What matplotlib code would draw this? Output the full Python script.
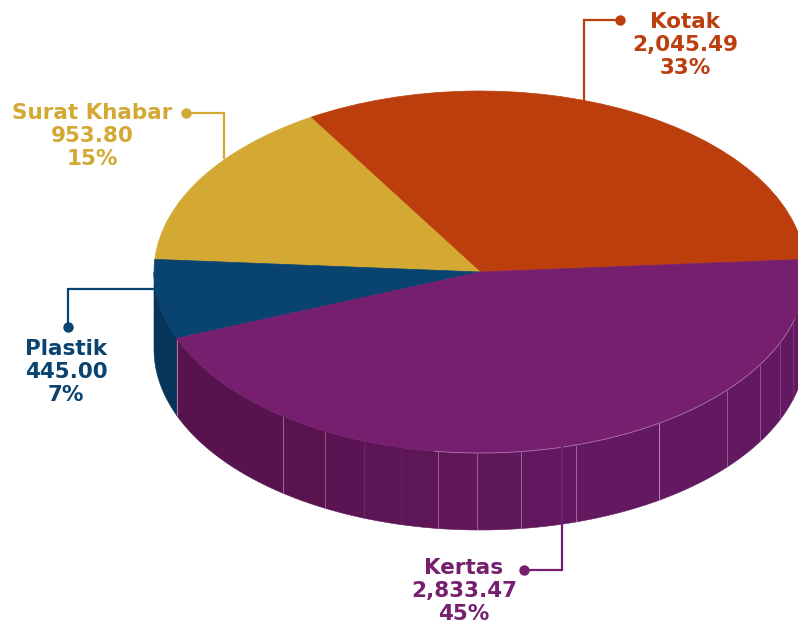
import numpy as np
import matplotlib
matplotlib.use("Agg")
import matplotlib.pyplot as plt
from matplotlib.colors import to_rgb

categories = ["Kotak", "Surat Khabar", "Plastik", "Kertas"]
values = [2045.49, 953.80, 445.00, 2833.47]
value_labels = ["2,045.49", "953.80", "445.00", "2,833.47"]
percent_labels = ["33%", "15%", "7%", "45%"]
top_colors = ["#bd3e0d", "#d3a933", "#09436f", "#761f6f"]
side_colors = {"Plastik": "#07345a"}
kertas_side_left = "#57134e"
kertas_side_right = "#631960"
seam_px = [283, 325, 364, 401, 438, 477, 521, 576, 659, 727, 760, 780, 793]

W, H = 798, 627
CX, CY, RX, RY, DEPTH = 480, 272, 326, 181, 77
START = 4.0

fig = plt.figure(figsize=(W / 100, H / 100), dpi=100, facecolor="white")
ax = fig.add_axes([0, 0, 1, 1])

wedges, _ = ax.pie(values, colors=top_colors, startangle=START, counterclock=True,
                   wedgeprops=dict(linewidth=0))
for w in wedges:
    w.set_zorder(5)
    w.set_edgecolor(w.get_facecolor())
    w.set_linewidth(0.5)
ax.set_aspect("auto")
ax.set_xlim(-CX / RX, (W - CX) / RX)
ax.set_ylim((CY - H) / RY, CY / RY)
ax.axis("off")

edges = START + np.cumsum([0] + values) / sum(values) * 360
d = DEPTH / RY


def side(a0, a1, color, z=2):
    t = np.radians(np.linspace(a0, a1, 80))
    x, y = np.cos(t), np.sin(t)
    ax.fill(np.r_[x, x[::-1]], np.r_[y, (y - d)[::-1]], color=color, lw=0.4, zorder=z)


# Plastik side: only the part facing the viewer
side(180, edges[3], side_colors["Plastik"])
# left silhouette of the disc
ax.plot([-1, -1], [0, -d], color="#d9dde3", lw=0.5, zorder=1)

# Kertas side, split at the seams, lighter to the right
seam_angles = [360 - np.degrees(np.arccos((p - CX) / RX)) for p in seam_px]
bounds = [edges[3]] + seam_angles + [edges[4]]
c0, c1 = np.array(to_rgb(kertas_side_left)), np.array(to_rgb(kertas_side_right))
for i in range(len(bounds) - 1):
    f = min(i / 8, 1.0)
    side(bounds[i], bounds[i + 1], tuple(c0 + (c1 - c0) * f), z=2)
seam_alpha = [0.6, 0.5, 0.15, 0.1, 0.55, 0.55, 0.6, 0.6, 0.85, 0.5, 0.45, 0.3, 0.2]
for a, al in zip(seam_angles, seam_alpha):
    r = np.radians(a)
    ax.plot([np.cos(r)] * 2, [np.sin(r), np.sin(r) - d], color="#c9a0c4",
            lw=0.7, alpha=al, zorder=3, solid_capstyle="butt")
# light rim along the front of the top face
t = np.radians(np.linspace(262, 345, 100))
ax.plot(np.cos(t), np.sin(t), color="#b98ab4", lw=0.6, alpha=0.8, zorder=6)
r = np.radians(edges[3])
ax.plot([np.cos(r)] * 2, [np.sin(r), np.sin(r) - d], color="#8aa0b5", lw=0.6, zorder=3)

# Overlay in pixel coordinates for leaders and labels
ov = fig.add_axes([0, 0, 1, 1], facecolor="none")
ov.set_xlim(0, W)
ov.set_ylim(H, 0)
ov.axis("off")

leader_x = [[620, 584, 584], [186, 224, 224], [68, 68, 155], [524, 562, 562]]
leader_y = [[20, 20, 100], [113, 113, 158], [327, 289, 289], [570, 570, 447]]
label_x = [685, 92, 66, 464]
label_y = [20, 111, 347, 566]
LINE = 23

for i, name in enumerate(categories):
    col = top_colors[i]
    ov.plot(leader_x[i], leader_y[i], color=col, lw=1.6, solid_joinstyle="miter", zorder=6)
    ov.plot(leader_x[i][0], leader_y[i][0], "o", color=col, ms=7.5, mew=0, zorder=7)
    for j, s in enumerate([name, value_labels[i], percent_labels[i]]):
        ov.text(label_x[i], label_y[i] + j * LINE, s, color=col, ha="center",
                va="center_baseline", fontsize=15.5, fontweight="bold", family="DejaVu Sans")

fig.savefig("out.png", dpi=100)
